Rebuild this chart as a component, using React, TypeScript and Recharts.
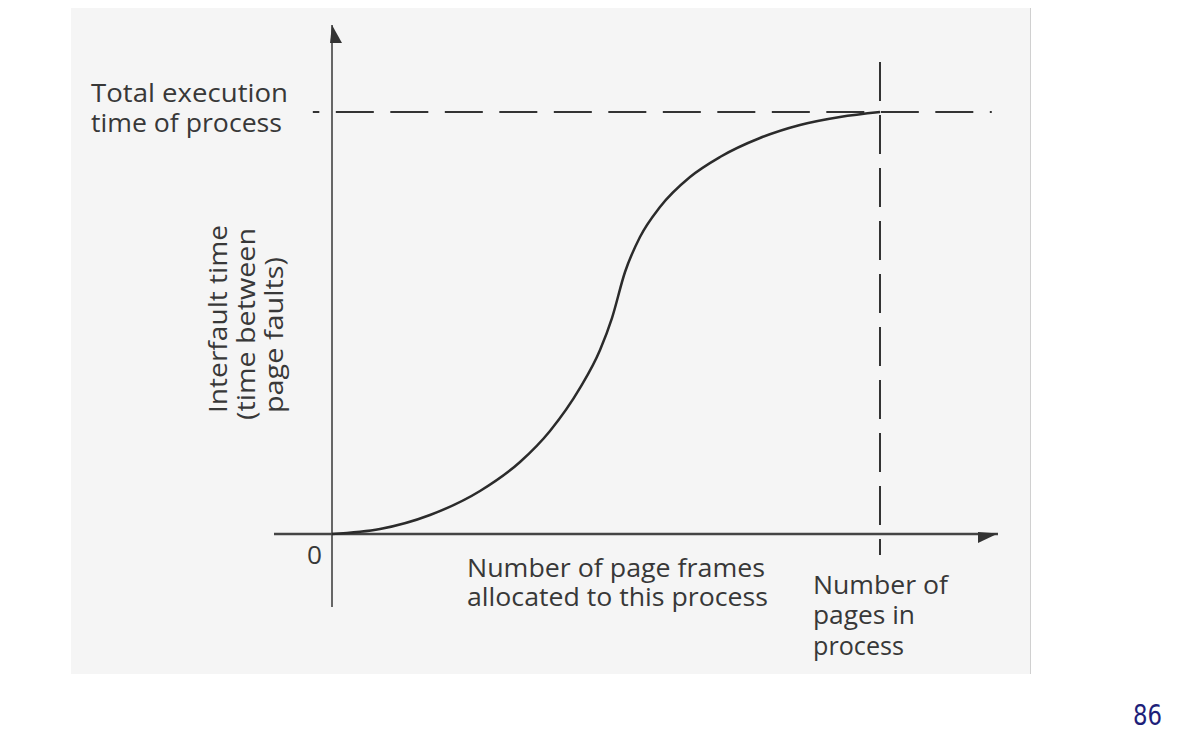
import React from 'react';
import { LineChart, Line, XAxis, YAxis, ReferenceLine, ReferenceDot } from 'recharts';

// Number of page frames allocated (0 .. 100 = number of pages in process)
const pages = [0, 8.76, 17.88, 27.01, 34.31, 39.78, 45.26, 48.91, 51.09, 53.47, 56.2, 59.85, 65.33, 70.8, 78.1, 85.4, 92.7, 100];
// Interfault time (0 .. 100 = total execution time of process)
const interfault = [0, 1.18, 4.5, 10.19, 17.06, 24.41, 34.6, 43.6, 51.18, 62.09, 70.38, 77.49, 84.6, 89.34, 93.84, 96.92, 98.82, 100];

const totalTime = 100;
const pagesInProcess = 100;

const xDomain: [number, number] = [-10.584, 121.533];
const yDomain: [number, number] = [-17.299, 120.616];

const yAxisLabel = ['Interfault time', '(time between', 'page faults)'];
const xAxisLabel = ['Number of page frames', 'allocated to this process'];
const totalLabel = ['Total execution', 'time of process'];
const pagesLabel = ['Number of', 'pages in', 'process'];

const data = pages.map((x, i) => ({ x, y: interfault[i] }));

const ink = '#333333';
const font = '"Open Sans", "Noto Sans", sans-serif';

const RightArrow = (props: any) => {
  const { cx, cy } = props;
  return <polygon points={`${cx - 20},${cy - 2} ${cx},${cy - 0.5} ${cx - 20},${cy + 9}`} fill="#333" />;
};
const UpArrow = (props: any) => {
  const { cx, cy } = props;
  return <polygon points={`${cx},${cy} ${cx - 2},${cy + 18} ${cx + 10},${cy + 18}`} fill="#333" />;
};

export default function App() {
  const t = (txt: string, x: number, y: number, len: number, extra: any = {}) => (
    <text
      x={x}
      y={y}
      textLength={len}
      lengthAdjust="spacingAndGlyphs"
      fontFamily={font}
      fontSize={26}
      fill="#383838"
      {...extra}
    >
      {txt}
    </text>
  );
  return (
    <div style={{ position: 'absolute', left: 0, top: 0, width: 1187, height: 747, background: '#ffffff' }}>
      <div
        style={{
          position: 'absolute',
          left: 71,
          top: 8,
          width: 959,
          height: 666,
          background: '#f5f5f5',
          borderRight: '1px solid #d0d0d0',
        }}
      />
      <div style={{ position: 'absolute', left: 0, top: 0 }}>
        <LineChart width={1187} height={747} data={data} margin={{ top: 25, right: 189, bottom: 140, left: 274 }}>
          <XAxis type="number" dataKey="x" domain={xDomain} allowDataOverflow hide />
          <YAxis type="number" domain={yDomain} allowDataOverflow hide />
          <ReferenceLine x={0} stroke="#666" strokeWidth={2} />
          <ReferenceLine y={0} stroke="#444" strokeWidth={2.5} />
          <ReferenceLine
            segment={[{ x: -3.5, y: totalTime }, { x: 120.4, y: totalTime }]}
            stroke={ink}
            strokeWidth={2}
            strokeDasharray="38 16.5"
            strokeDashoffset={31.5}
          />
          <ReferenceLine
            segment={[{ x: pagesInProcess, y: 111.85 }, { x: pagesInProcess, y: -4.98 }]}
            stroke={ink}
            strokeWidth={2}
            strokeDasharray="39 14"
          />
          <Line
            type="monotone"
            dataKey="y"
            stroke="#2b2b2b"
            strokeWidth={2.5}
            dot={false}
            isAnimationActive={false}
          />
          <ReferenceDot x={xDomain[1]} y={0} ifOverflow="visible" shape={RightArrow} />
          <ReferenceDot x={0} y={yDomain[1]} ifOverflow="visible" shape={UpArrow} />
        </LineChart>
      </div>
      <svg width={1187} height={747} style={{ position: 'absolute', left: 0, top: 0, pointerEvents: 'none' }}>
        {t(totalLabel[0], 91, 102, 197)}
        {t(totalLabel[1], 91, 132, 191)}
        {t('0', 307, 564, 15)}
        {t(xAxisLabel[0], 467, 577, 298)}
        {t(xAxisLabel[1], 467, 606, 301)}
        {t(pagesLabel[0], 813, 594, 135)}
        {t(pagesLabel[1], 813, 624, 102)}
        {t(pagesLabel[2], 813, 655, 91)}
        {t(yAxisLabel[0], 227, 413, 188, { transform: 'rotate(-90 227 413)' })}
        {t(yAxisLabel[1], 255, 420, 192, { transform: 'rotate(-90 255 420)' })}
        {t(yAxisLabel[2], 283, 413, 156, { transform: 'rotate(-90 283 413)' })}
        <text x={1133} y={725} textLength={29} lengthAdjust="spacingAndGlyphs" fontFamily='"DejaVu Sans", sans-serif' fontSize={29} fill="#1e1f7a">
          86
        </text>
      </svg>
    </div>
  );
}
